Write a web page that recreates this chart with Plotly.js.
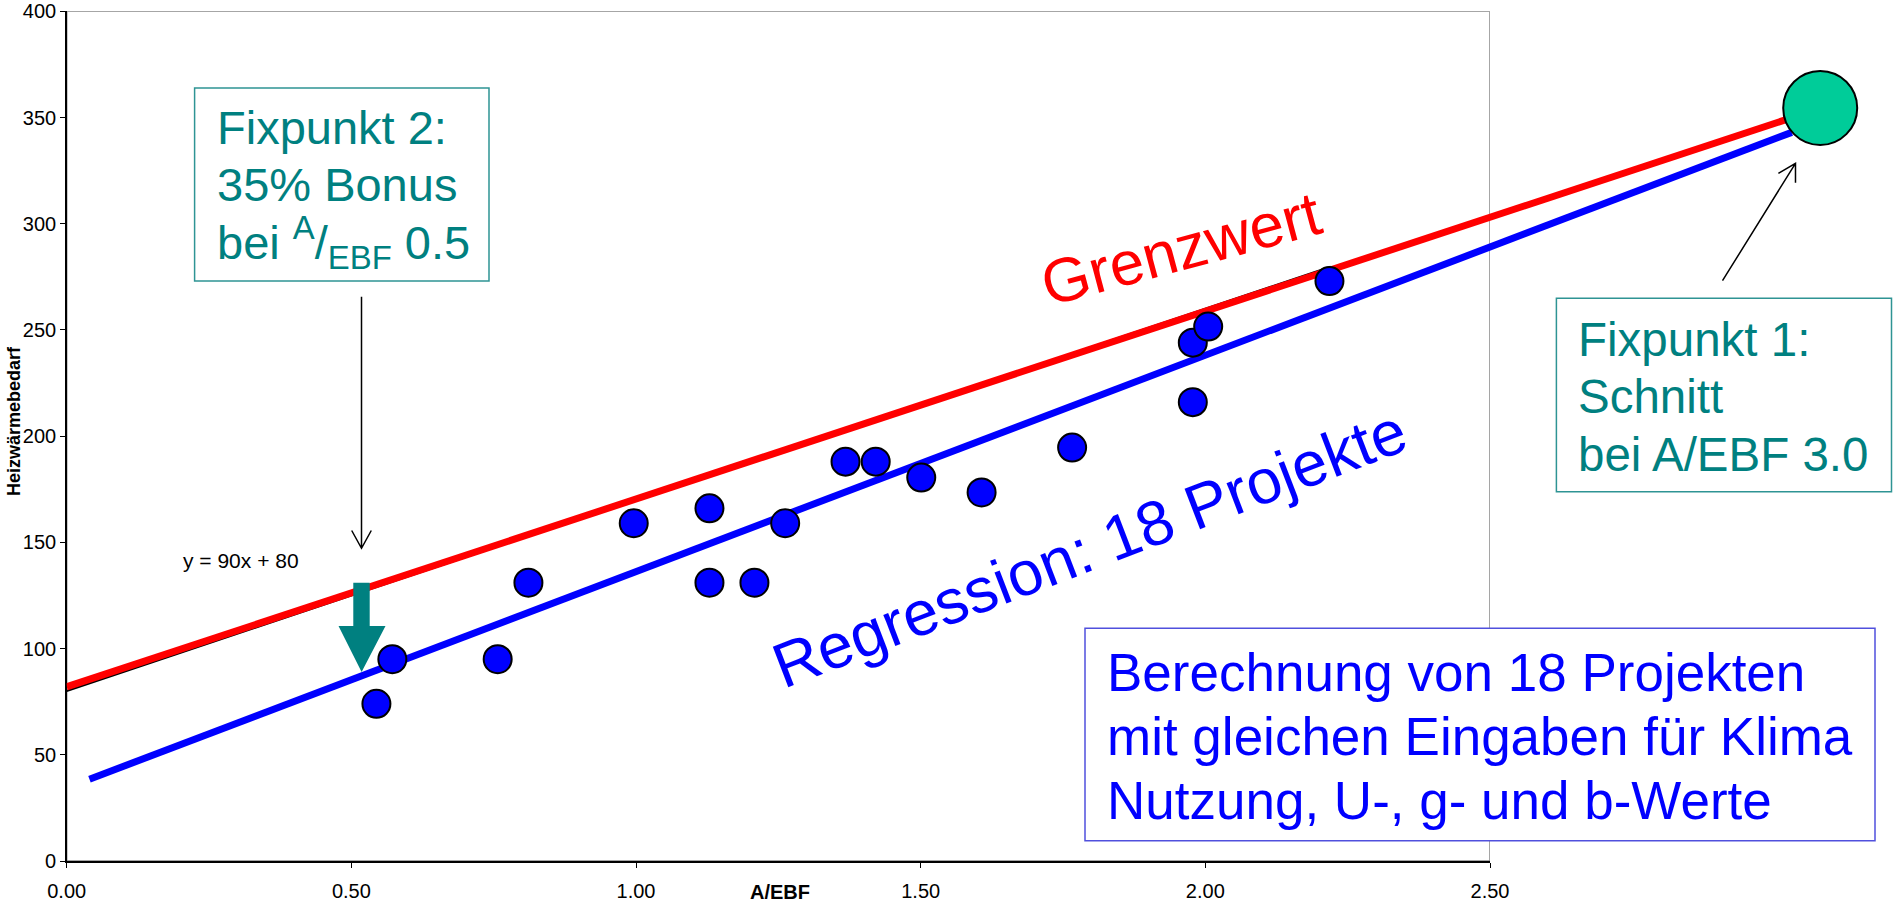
<!DOCTYPE html>
<html>
<head>
<meta charset="utf-8">
<script src="https://cdn.plot.ly/plotly-3.0.1.min.js"></script>
<style>html,body{margin:0;padding:0;background:#fff;}#chart{width:1893px;height:906px;}</style>
</head>
<body>
<div id="chart"></div>
<script>
// ---- data ----
const projX = [0.544, 0.572, 0.757, 0.811, 0.996, 1.129, 1.129, 1.208, 1.262, 1.368, 1.421, 1.501, 1.607, 1.766, 1.978, 1.978, 2.005, 2.218];
const projY = [74, 95, 95, 131, 159, 166, 131, 131, 159, 188, 188, 180.5, 173.5, 194.6, 216, 244, 251.6, 273];
const grenzX = [0, 3.02];
const grenzY = [82, 349];
const regX = [0.04, 3.03];
const regY = [38.5, 343];
const trendX = [0, 2.22];
const trendY = [80, 279.8];
const fix1X = [3.08];
const fix1Y = [354.5];
const xTicks = [0, 0.5, 1, 1.5, 2, 2.5];
const yTicks = [0, 50, 100, 150, 200, 250, 300, 350, 400];
const xTitle = 'A/EBF';
const yTitle = 'Heizwärmebedarf';
const trendLabel = 'y = 90x + 80';
const fix2Lines = ['Fixpunkt 2:', '35% Bonus', 'bei <sup>A</sup>/<sub>EBF</sub> 0.5'];
const fix1Lines = ['Fixpunkt 1:', 'Schnitt', 'bei A/EBF 3.0'];
const noteLines = ['Berechnung von 18 Projekten', 'mit gleichen Eingaben für Klima', 'Nutzung, U-, g- und b-Werte'];
const grenzLabel = 'Grenzwert';
const regLabel = 'Regression: 18 Projekte';

// ---- geometry helpers (pixel -> paper) ----
const W = 1893, H = 906;
const X0 = 66.7, X25 = 1490, Y0 = 861, Y400 = 11.3;
const pxPerUnit = (X25 - X0) / 2.5;
const fx = x => x / W;
const fy = y => 1 - y / H;
const pt = (x, y) => fx(x).toFixed(5) + ',' + fy(y).toFixed(5);

const FONT = 'Liberation Sans, Arial, sans-serif';
const TEAL = '#008080';

const traces = [
  {x: trendX, y: trendY, xaxis: 'x', yaxis: 'y', mode: 'lines', line: {color: '#000', width: 2}, hoverinfo: 'skip'},
  {x: grenzX, y: grenzY, xaxis: 'x2', yaxis: 'y', mode: 'lines', line: {color: '#FF0000', width: 7}},
  {x: regX, y: regY, xaxis: 'x2', yaxis: 'y', mode: 'lines', line: {color: '#0000FF', width: 7}},
  {x: projX, y: projY, xaxis: 'x2', yaxis: 'y', mode: 'markers', cliponaxis: false,
   marker: {color: '#0000FF', size: 28, line: {color: '#000', width: 2}}},
  {x: fix1X, y: fix1Y, xaxis: 'x2', yaxis: 'y', mode: 'markers', cliponaxis: false,
   marker: {color: '#00CC99', size: 74, line: {color: '#000', width: 2}}}
];

const xDom = [X0 / W, X25 / W];
const yDom = [fy(Y0), fy(Y400)];

function ann(text, x, y, size, color, opts) {
  return Object.assign({
    text: text, x: fx(x), y: fy(y), xref: 'paper', yref: 'paper', showarrow: false,
    xanchor: 'left', yanchor: 'middle', font: {family: FONT, size: size, color: color}
  }, opts || {});
}

const annotations = [];
const fix2Base = [143.8, 201.2, 259.4];
fix2Lines.forEach((t, i) => annotations.push(ann(t, 214.5, fix2Base[i] - 0.35 * 47, 47, TEAL)));
const fix1Base = [356, 412.7, 470.7];
fix1Lines.forEach((t, i) => annotations.push(ann(t, 1576, fix1Base[i] - 0.35 * 47.5, 47.5, TEAL)));
const noteBase = [690.7, 755, 819];
noteLines.forEach((t, i) => annotations.push(ann(t, 1104.5, noteBase[i] - 0.35 * 53, 53, '#0000FF')));
annotations.push(ann(grenzLabel, 1181.2, 248.8, 62, '#FF0000', {xanchor: 'center', textangle: -15}));
annotations.push(ann(regLabel, 1089.3, 547.5, 63, '#0000FF', {xanchor: 'center', textangle: -21}));
annotations.push(ann(trendLabel, 180.5, 560, 21, '#000'));
annotations.push(ann('<b>' + xTitle + '</b>', 780, 891.7, 20, '#000', {xanchor: 'center'}));
annotations.push(ann('<b>' + yTitle + '</b>', 14.2, 420.8, 18, '#000', {xanchor: 'center', textangle: -90}));

const shapes = [
  // plot frame (grey top/right)
  {type: 'rect', xref: 'x', yref: 'y', x0: 0, x1: 2.5, y0: 0, y1: 400, line: {color: '#888', width: 1.5}, layer: 'below'},
  // boxes
  {type: 'rect', xref: 'paper', yref: 'paper', x0: fx(194.6), x1: fx(489), y0: fy(281), y1: fy(88),
   line: {color: '#2E9494', width: 1.5}, fillcolor: '#fff', layer: 'above'},
  {type: 'rect', xref: 'paper', yref: 'paper', x0: fx(1556.4), x1: fx(1891.5), y0: fy(491.7), y1: fy(298.3),
   line: {color: '#2E9494', width: 1.5}, fillcolor: '#fff', layer: 'above'},
  {type: 'rect', xref: 'paper', yref: 'paper', x0: fx(1085), x1: fx(1875), y0: fy(840.7), y1: fy(628.3),
   line: {color: '#5050DD', width: 1.5}, fillcolor: '#fff', layer: 'above'},
  // thin arrow from Fixpunkt 2
  {type: 'path', xref: 'paper', yref: 'paper', layer: 'above', line: {color: '#000', width: 1.5},
   path: 'M' + pt(361.5, 296.7) + 'L' + pt(361.5, 548) + 'M' + pt(351.7, 530.5) + 'L' + pt(361.5, 548.3) + 'L' + pt(371.3, 530.5)},
  // thin arrow from Fixpunkt 1
  {type: 'path', xref: 'paper', yref: 'paper', layer: 'above', line: {color: '#000', width: 1.5},
   path: 'M' + pt(1722.5, 280.7) + 'L' + pt(1795.5, 163.3) + 'M' + pt(1778.4, 173.3) + 'L' + pt(1795.5, 163.3) + 'L' + pt(1795.5, 182.7)},
  // thick teal arrow
  {type: 'path', xref: 'paper', yref: 'paper', layer: 'above', line: {width: 0}, fillcolor: TEAL,
   path: 'M' + pt(353.3, 582.7) + 'L' + pt(369.7, 582.7) + 'L' + pt(369.7, 626) + 'L' + pt(385.5, 626) +
         'L' + pt(361.6, 672) + 'L' + pt(338.5, 626) + 'L' + pt(353.3, 626) + 'Z'}
];

const tickFont = {family: FONT, size: 20, color: '#000'};
const layout = {
  width: W, height: H,
  margin: {l: 0, r: 0, t: 0, b: 0, pad: 0},
  paper_bgcolor: '#fff', plot_bgcolor: 'rgba(0,0,0,0)',
  showlegend: false,
  xaxis: {domain: xDom, range: [0, 2.5], anchor: 'y', tickvals: xTicks, tickformat: '.2f',
          ticks: 'outside', ticklen: 5, tickwidth: 1, tickcolor: '#000', showline: true, linecolor: '#000', linewidth: 1.5,
          showgrid: false, zeroline: false, tickfont: tickFont, automargin: false, fixedrange: true,
          ticklabelstandoff: 6, ticklabeloverflow: 'allow'},
  yaxis: {domain: yDom, range: [0, 400], anchor: 'x', tickvals: yTicks,
          ticks: 'outside', ticklen: 5, tickwidth: 1, tickcolor: '#000', showline: true, linecolor: '#000', linewidth: 1.5,
          showgrid: false, zeroline: false, tickfont: tickFont, automargin: false, fixedrange: true,
          ticklabeloverflow: 'allow'},
  xaxis2: {domain: [X0 / W, 1], range: [0, (W - X0) / pxPerUnit], anchor: 'y', visible: false, fixedrange: true},
  xaxis3: {domain: xDom, range: [0, 2.5], anchor: 'y', overlaying: 'x', tickvals: xTicks, ticks: 'inside', ticklen: 5,
           tickwidth: 1, tickcolor: '#000', showticklabels: false, showline: false, showgrid: false, zeroline: false, fixedrange: true},
  yaxis2: {domain: yDom, range: [0, 400], anchor: 'x', overlaying: 'y', side: 'left', tickvals: yTicks, ticks: 'inside', ticklen: 5,
           tickwidth: 1, tickcolor: '#000', showticklabels: false, showline: false, showgrid: false, zeroline: false, fixedrange: true},
  annotations: annotations,
  shapes: shapes
};

Plotly.newPlot('chart', traces, layout, {displayModeBar: false, staticPlot: true});
</script>
</body>
</html>
